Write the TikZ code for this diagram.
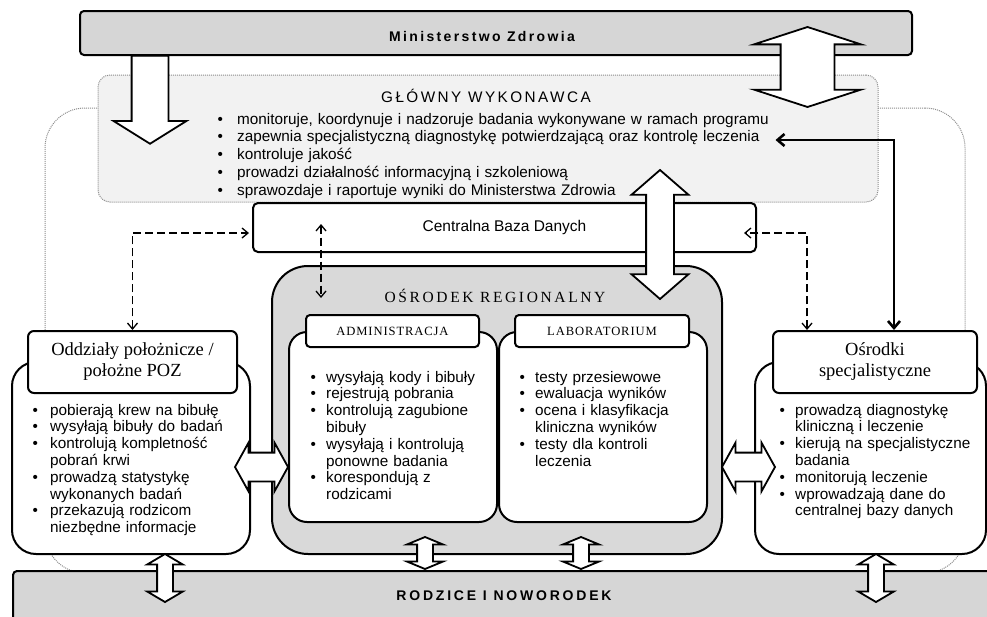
\documentclass[tikz,border=0pt]{standalone}
\usepackage{fontspec}
\setmainfont{Liberation Sans}
\newfontfamily\serifface{Liberation Serif}
\usepackage{tikz}
\usetikzlibrary{arrows.meta, positioning, calc, shapes.arrows}

\definecolor{bargray}{HTML}{D6D6D6}
\definecolor{reggray}{HTML}{D9D9D9}
\definecolor{mainfill}{HTML}{F2F2F2}
\definecolor{dotgray}{HTML}{8C8C8C}

\newlength\itmind
\setlength\itmind{16pt}
\newcommand{\itm}[1]{\hangindent=\itmind\hangafter=1\noindent\strut\makebox[\itmind][l]{\textbullet}#1\par}
\newcommand{\shaft}[1]{\rule{0pt}{#1}}

\begin{document}
\begin{tikzpicture}[
x=1pt, y=-1pt,
bar/.style={draw, line width=2pt, fill=bargray, rounded corners=4pt, inner sep=0pt},
framebox/.style={draw=dotgray, densely dotted, line width=1pt, rounded corners=40pt, inner sep=0pt},
mainbox/.style={draw=dotgray, densely dotted, line width=1pt, fill=mainfill, rounded corners=12pt, inner sep=0pt},
dbbox/.style={draw, line width=2pt, fill=white, rounded corners=5pt, font=\fontsize{15.5}{18}\selectfont},
regbox/.style={draw, line width=2pt, fill=reggray, rounded corners=36pt, inner sep=0pt},
bodybox/.style={draw, line width=2pt, fill=white, inner sep=0pt},
hdr/.style={draw, line width=2pt, fill=white, rounded corners=4pt, inner sep=0pt, font=\serifface\fontsize{12.6}{15}\selectfont\addfontfeatures{LetterSpace=7}},
sidehdr/.style={draw, line width=2pt, fill=white, rounded corners=6pt, inner sep=0pt, align=center, font=\serifface\fontsize{18.5}{21}\selectfont},
bullets/.style={anchor=base west, inner sep=0pt, text width=#1, font=\fontsize{15.3}{16.8}\selectfont},
blk/.style={draw, fill=white, line width=1.8pt, inner sep=0pt},
dasharr/.style={line width=1.3pt, dash pattern=on 8pt off 4pt, {Straight Barb[length=6pt,width=10pt]}-{Straight Barb[length=6pt,width=10pt]}},
thickarr/.style={line width=2.6pt, {Straight Barb[length=7pt,width=12pt]}-{Straight Barb[length=7pt,width=12pt]}}
]
\useasboundingbox (0,0) rectangle (987,616);
\clip (0,0) rectangle (987,616);

% outer dotted frame
\node[framebox, minimum width=920pt, minimum height=465pt] (frame) at (505,340.5) {};

% glowny wykonawca
\node[mainbox, minimum width=780pt, minimum height=127pt] (glowny) at (488,138.5) {};
\node[anchor=base, inner sep=0pt, font=\fontsize{15.3}{18}\selectfont\addfontfeatures{LetterSpace=16}] (gwtitle) at (486,102.5) {GŁÓWNY WYKONAWCA};
\node[bullets=620pt, font=\fontsize{15.3}{17.8}\selectfont] (gwlist) at (217.3,124) {\setlength\itmind{19.7pt}%
\itm{monitoruje, koordynuje i nadzoruje badania wykonywane w ramach programu}
\itm{zapewnia specjalistyczną diagnostykę potwierdzającą oraz kontrolę leczenia}
\itm{kontroluje jakość}
\itm{prowadzi działalność informacyjną i szkoleniową}
\itm{sprawozdaje i raportuje wyniki do Ministerstwa Zdrowia}};

% ministerstwo
\node[blk, single arrow, single arrow head extend=18pt, single arrow tip angle=116, minimum height=88pt, rotate=-90] (mzdown) at (150,94) {\shaft{35pt}};
\node[bar, minimum width=832pt, minimum height=44pt] (min) at (496,33) {};
\node[anchor=base, inner sep=0pt, font=\bfseries\fontsize{14}{16}\selectfont\addfontfeatures{LetterSpace=17}] (mintxt) at (482,41.7) {Ministerstwo Zdrowia};
\node[blk, double arrow, double arrow head extend=26.5pt, double arrow tip angle=144, minimum height=80pt, rotate=90] (mzgw) at (807.5,67) {\shaft{52pt}};

% centralna baza danych
\node[dbbox, minimum width=503pt, minimum height=49pt] (cbd) at (504.5,227.5) {Centralna Baza Danych};

% osrodek regionalny
\node[regbox, minimum width=450pt, minimum height=288pt] (osr) at (497,410) {};
\node[anchor=base, inner sep=0pt, font=\serifface\fontsize{15.5}{18}\selectfont\addfontfeatures{LetterSpace=17}] (osrtitle) at (495,302) {OŚRODEK REGIONALNY};
\node[bodybox, rounded corners=18pt, minimum width=208pt, minimum height=190pt] (admb) at (393,427) {};
\node[bodybox, rounded corners=18pt, minimum width=208pt, minimum height=190pt, right=0pt of admb] (labb) {};
\node[hdr, minimum width=173pt, minimum height=32pt] (admh) at (392.5,331) {ADMINISTRACJA};
\node[hdr, minimum width=174pt, minimum height=32pt, right=34pt of admh] (labh) {LABORATORIUM};
\node[bullets=190pt] (admlist) at (310.3,382) {\setlength\itmind{15.7pt}%
\itm{wysyłają kody i bibuły}
\itm{rejestrują pobrania}
\itm{kontrolują zagubione\newline bibuły}
\itm{wysyłają i kontrolują\newline ponowne badania}
\itm{korespondują z\newline rodzicami}};
\node[bullets=190pt] (lablist) at (519.3,382) {\setlength\itmind{15.7pt}%
\itm{testy przesiewowe}
\itm{ewaluacja wyników}
\itm{ocena i klasyfikacja\newline kliniczna wyników}
\itm{testy dla kontroli\newline leczenia}};
\node[blk, double arrow, double arrow head extend=14.5pt, double arrow tip angle=98, minimum height=129pt, rotate=90] (gwor) at (660,234.5) {\shaft{26pt}};

% oddzialy polozinicze
\node[bodybox, rounded corners=24pt, minimum width=238pt, minimum height=192pt] (oddb) at (131,458) {};
\node[sidehdr, minimum width=209pt, minimum height=62pt] (oddh) at (132.5,362) {Oddziały położnicze /\\ położne POZ};
\node[bullets=215pt] (oddlist) at (32.3,415) {\setlength\itmind{17.7pt}%
\itm{pobierają krew na bibułę}
\itm{wysyłają bibuły do badań}
\itm{kontrolują kompletność\newline pobrań krwi}
\itm{prowadzą statystykę\newline wykonanych badań}
\itm{przekazują rodzicom\newline niezbędne informacje}};

% osrodki specjalistyczne
\node[bodybox, rounded corners=24pt, minimum width=231pt, minimum height=192pt] (osb) at (870.5,458) {};
\node[sidehdr, minimum width=204pt, minimum height=62pt] (osh) at (875,362) {Ośrodki\\ specjalistyczne};
\node[bullets=205pt] (oslist) at (779.3,415) {\setlength\itmind{15.7pt}%
\itm{prowadzą diagnostykę\newline kliniczną i leczenie}
\itm{kierują na specjalistyczne\newline badania}
\itm{monitorują leczenie}
\itm{wprowadzają dane do\newline centralnej bazy danych}};

\node[blk, double arrow, double arrow head extend=10pt, double arrow tip angle=122, minimum height=53pt] (oddor) at (261.5,467) {\shaft{27pt}};
\node[blk, double arrow, double arrow head extend=10pt, double arrow tip angle=122, minimum height=53pt] (osror) at (748.5,467) {\shaft{27pt}};

% rodzice i noworodek
\node[bar, minimum width=988pt, minimum height=50pt, anchor=north west] (rodz) at (12,570) {};
\node[anchor=base, inner sep=0pt, font=\bfseries\fontsize{14}{16}\selectfont\addfontfeatures{LetterSpace=20}] (rodztxt) at (504,600) {RODZICE I NOWORODEK};
\node[blk, double arrow, double arrow head extend=10pt, double arrow tip angle=119, minimum height=48pt, rotate=90] (oddrodz) at (165,578) {\shaft{14pt}};
\node[blk, double arrow, double arrow head extend=10pt, double arrow tip angle=119, minimum height=48pt, rotate=90] (osrodz) at (876,578) {\shaft{14pt}};
\node[blk, double arrow, double arrow head extend=10pt, double arrow tip angle=135, minimum height=32pt, rotate=90] (admrodz) at (425,553) {\shaft{14pt}};
\node[blk, double arrow, double arrow head extend=10pt, double arrow tip angle=135, minimum height=32pt, rotate=90] (labrodz) at (581,553) {\shaft{14pt}};

% data flows
\draw[dasharr] (oddh.north) |- ($(cbd.west)+(-3,5.5)$);
\draw[dasharr] ($(osh.north west)+(35,0)$) |- ($(cbd.east)+(-13,5.5)$);
\draw[dasharr] ($(cbd.south west)+(69,-29)$) -- ($(cbd.south west)+(69,45)$);
\draw[thickarr] ($(glowny.east)+(-103,1.5)$) -| ($(osh.north west)+(122,0)$);

\end{tikzpicture}
\end{document}
